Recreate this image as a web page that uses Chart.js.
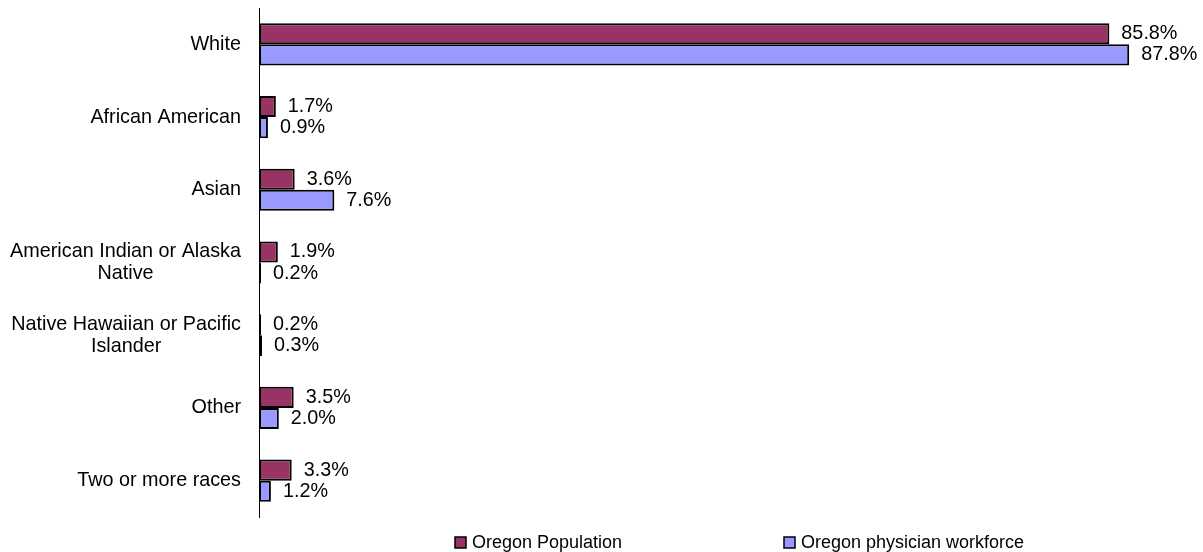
<!DOCTYPE html>
<html>
<head>
<meta charset="utf-8">
<script src="https://cdn.jsdelivr.net/npm/chart.js@4"></script>
<style>
  html, body { margin: 0; padding: 0; background: #fff; }
  #wrap { width: 1203px; height: 552px; }
</style>
</head>
<body>
<div id="wrap"><canvas id="chart"></canvas></div>
<script>
// categories (multi-line ones as arrays)
var categories = [
    "White",
    "African American",
    "Asian",
    ["American Indian or Alaska", "Native"],
    ["Native Hawaiian or Pacific", "Islander"],
    "Other",
    "Two or more races"
];
var populationValues = [85.8, 1.7, 3.6, 1.9, 0.2, 3.5, 3.3];
var workforceValues = [87.8, 0.9, 7.6, 0.2, 0.3, 2.0, 1.2];
var seriesNames = ["Oregon Population", "Oregon physician workforce"];
var seriesColors = ["#993366", "#9999ff"];

var FONT = '"Liberation Sans", Arial, sans-serif';

// y labels: right aligned block, extra lines centred under the first
var yLabels = {
    id: 'yLabels',
    afterDraw: function (chart) {
        var ctx = chart.ctx;
        var y = chart.scales.y;
        ctx.save();
        ctx.font = '19.8px ' + FONT;
        ctx.fillStyle = '#000';
        ctx.textBaseline = 'middle';
        var right = 241;
        var lh = 22;
        categories.forEach(function (lab, i) {
            var lines = Array.isArray(lab) ? lab : [lab];
            var cy = y.getPixelForValue(i);
            var w = Math.max.apply(null, lines.map(function (l) { return ctx.measureText(l).width; }));
            var cx = right - w / 2;
            var top = cy - (lines.length - 1) * lh / 2;
            ctx.textAlign = 'center';
            lines.forEach(function (l, k) {
                ctx.fillText(l, cx, top + k * lh);
            });
        });
        ctx.restore();
    }
};

// value labels right of every bar
var valueLabels = {
    id: 'valueLabels',
    afterDatasetsDraw: function (chart) {
        var ctx = chart.ctx;
        ctx.save();
        ctx.font = '19.8px ' + FONT;
        ctx.fillStyle = '#000';
        ctx.textAlign = 'left';
        ctx.textBaseline = 'middle';
        chart.data.datasets.forEach(function (ds, di) {
            chart.getDatasetMeta(di).data.forEach(function (bar, i) {
                ctx.fillText(ds.data[i].toFixed(1) + '%', bar.x + 12, bar.y);
            });
        });
        ctx.restore();
    }
};

// legend at the bottom, items spread out like the original
var bottomLegend = {
    id: 'bottomLegend',
    afterDraw: function (chart) {
        var ctx = chart.ctx;
        var xs = [455, 784];
        var yc = 542.5;
        ctx.save();
        ctx.font = '18px ' + FONT;
        ctx.textBaseline = 'middle';
        ctx.textAlign = 'left';
        seriesNames.forEach(function (name, i) {
            ctx.fillStyle = seriesColors[i];
            ctx.fillRect(xs[i], yc - 5.5, 11, 11);
            ctx.strokeStyle = '#000';
            ctx.lineWidth = 1.5;
            ctx.strokeRect(xs[i], yc - 5.5, 11, 11);
            ctx.fillStyle = '#000';
            ctx.fillText(name, xs[i] + 17, yc + 1);
        });
        ctx.restore();
    }
};

var chart = new Chart(document.getElementById("chart"), {
    type: 'bar',
    data: {
        labels: categories,
        datasets: [
            {
                label: seriesNames[0],
                data: populationValues,
                backgroundColor: seriesColors[0],
                borderColor: "#000",
                borderWidth: 2,
                borderSkipped: false
            },
            {
                label: seriesNames[1],
                data: workforceValues,
                backgroundColor: seriesColors[1],
                borderColor: "#000",
                borderWidth: 2,
                borderSkipped: false
            }
        ]
    },
    options: {
        indexAxis: 'y',
        responsive: true,
        maintainAspectRatio: false,
        animation: false,
        layout: { padding: { top: 8, right: 52, bottom: 35, left: 0 } },
        categoryPercentage: 0.58,
        barPercentage: 1.0,
        scales: {
            x: {
                display: false,
                min: 0,
                max: 90
            },
            y: {
                grid: { display: false },
                border: { display: true, color: '#000', width: 1 },
                ticks: { display: false },
                afterFit: function (scale) { scale.width = 259; }
            }
        },
        plugins: {
            legend: { display: false },
            tooltip: { enabled: false }
        }
    },
    plugins: [yLabels, valueLabels, bottomLegend]
});
</script>
</body>
</html>
